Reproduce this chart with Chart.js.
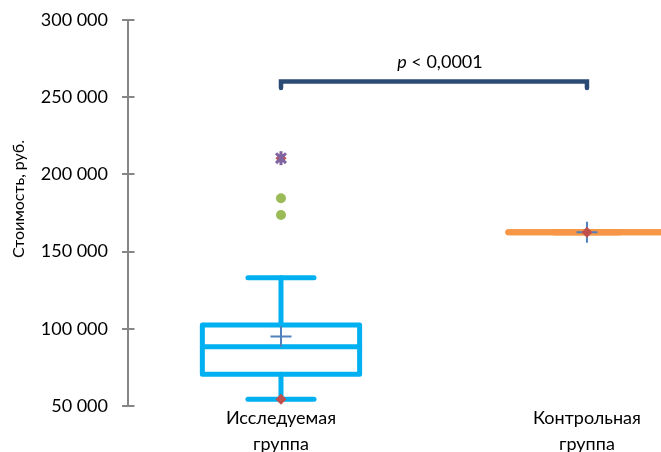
<!DOCTYPE html>
<html>
<head>
<meta charset="utf-8">
<script src="https://cdn.jsdelivr.net/npm/chart.js@4/dist/chart.umd.min.js"></script>
<style>
html,body{margin:0;padding:0;background:#fff;}
#wrap{width:661px;height:452px;position:relative;}
</style>
</head>
<body>
<div id="wrap"><canvas id="c" width="661" height="452"></canvas></div>
<script>
// ---- data ----
const categories = [["Исследуемая", "группа"], ["Контрольная", "группа"]];
const mins    = [54300, 162500];
const q1s     = [70500, 162500];
const medians = [88400, 162500];
const q3s     = [102500, 162500];
const maxs    = [133000, 162500];
const means   = [95000, 162500];
const outliers = [[184500, 173700], []];
const extremes = [[210500], []];
const redMarks = [[54300, 210500], [162500]];
const yTicks = [50000, 100000, 150000, 200000, 250000, 300000];
const bracketLow = 256000;
const bracketHigh = 260200;
const pLabel = ["p", " < 0,0001"];
const yTitle = "Стоимость, руб.";

// ---- styles ----
const groupColors = ["#00B0F0", "#F79646"];
const groupWidths = [5, 6];
const BOX_HALF = 0.257;
const CAP_HALF = 0.108;
const FONT = "Lato, 'Open Sans', sans-serif";

const datasets = [];
const lineDs = (pts, color, width, extra) => Object.assign({
  type: 'scatter', data: pts, showLine: true, pointRadius: 0, pointHoverRadius: 0,
  borderColor: color, borderWidth: width, borderCapStyle: 'round', borderJoinStyle: 'round',
  clip: false, spanGaps: false, fill: false
}, extra || {});

categories.forEach((c, i) => {
  const xc = i + 0.5, col = groupColors[i], w = groupWidths[i];
  datasets.push(lineDs([{x: xc, y: mins[i]}, {x: xc, y: q1s[i]}, {x: xc, y: null}, {x: xc, y: q3s[i]}, {x: xc, y: maxs[i]}], col, w));
  datasets.push(lineDs([{x: xc - CAP_HALF, y: maxs[i]}, {x: xc + CAP_HALF, y: maxs[i]}], col, w));
  datasets.push(lineDs([{x: xc - CAP_HALF, y: mins[i]}, {x: xc + CAP_HALF, y: mins[i]}], col, w));
  datasets.push(lineDs([
    {x: xc - BOX_HALF, y: q1s[i]}, {x: xc + BOX_HALF, y: q1s[i]},
    {x: xc + BOX_HALF, y: q3s[i]}, {x: xc - BOX_HALF, y: q3s[i]},
    {x: xc - BOX_HALF, y: q1s[i]}], col, w));
  datasets.push(lineDs([{x: xc - BOX_HALF, y: medians[i]}, {x: xc + BOX_HALF, y: medians[i]}], col, w));
});

datasets.push({type: 'scatter', data: means.map((v, i) => ({x: i + 0.5, y: v})),
  pointStyle: 'cross', pointRadius: 10.5, borderWidth: 2, borderColor: '#4F81BD', backgroundColor: '#4F81BD', clip: false});
datasets.push({type: 'scatter', data: outliers.flatMap((arr, i) => arr.map(v => ({x: i + 0.5, y: v}))),
  pointStyle: 'circle', pointRadius: 5, borderWidth: 0, backgroundColor: '#9BBB59', clip: false});
datasets.push({type: 'scatter', data: redMarks.flatMap((arr, i) => arr.map(v => ({x: i + 0.5, y: v}))),
  pointStyle: 'rectRot', pointRadius: 5.5, borderWidth: 0, backgroundColor: '#C0504D', clip: false});
const extPts = extremes.flatMap((arr, i) => arr.map(v => ({x: i + 0.5, y: v})));
datasets.push({type: 'scatter', data: extPts, pointStyle: 'crossRot', pointRadius: 7, borderWidth: 3, borderColor: '#8064A2', clip: false});
datasets.push({type: 'scatter', data: extPts, pointStyle: 'line', rotation: 90, pointRadius: 7, borderWidth: 3, borderColor: '#8064A2', clip: false});
datasets.push(lineDs([{x: 0.5, y: bracketLow}, {x: 0.5, y: bracketHigh}, {x: 1.5, y: bracketHigh}, {x: 1.5, y: bracketLow}], '#2B4A74', 4.5, {borderJoinStyle: 'miter'}));
// Chart.js paints the first dataset on top: reverse so later-pushed marks sit above
datasets.reverse();

const extras = {
  id: 'extras',
  afterDraw(chart) {
    const ctx = chart.ctx, ys = chart.scales.y, xs = chart.scales.x;
    ctx.save();
    ctx.strokeStyle = '#868686'; ctx.lineWidth = 2;
    yTicks.forEach(v => {
      const py = Math.round(ys.getPixelForValue(v));
      ctx.beginPath(); ctx.moveTo(chart.chartArea.left, py); ctx.lineTo(chart.chartArea.left + 6.5, py); ctx.stroke();
    });
    ctx.fillStyle = '#000';
    ctx.font = "16px " + FONT;
    ctx.textAlign = 'center'; ctx.textBaseline = 'middle';
    ctx.translate(19, 199); ctx.rotate(-Math.PI / 2);
    ctx.fillText(yTitle, 0, 0);
    ctx.setTransform(1, 0, 0, 1, 0, 0);
    const cx = xs.getPixelForValue(1.0) + 6;
    const by = ys.getPixelForValue(bracketHigh) - 13;
    ctx.font = "italic 18px " + FONT;
    const w1 = ctx.measureText(pLabel[0]).width;
    ctx.font = "18px " + FONT;
    const w2 = ctx.measureText(pLabel[1]).width;
    let sx = cx - (w1 + w2) / 2;
    ctx.textAlign = 'left'; ctx.textBaseline = 'alphabetic';
    ctx.font = "italic 18px " + FONT;
    ctx.fillText(pLabel[0], sx, by);
    ctx.font = "18px " + FONT;
    ctx.fillText(pLabel[1], sx + w1, by);
    ctx.restore();
  }
};

Chart.defaults.font.family = FONT;
new Chart(document.getElementById('c'), {
  type: 'scatter',
  data: {datasets},
  options: {
    responsive: false,
    animation: false,
    events: [],
    layout: {autoPadding: false, padding: {top: 20, right: 0, bottom: 0, left: 0}},
    plugins: {legend: {display: false}, tooltip: {enabled: false}},
    scales: {
      x: {
        type: 'linear', min: 0, max: 1.742,
        afterBuildTicks(s) { s.ticks = categories.map((c, i) => ({value: i + 0.5})); },
        afterFit(s) { s.height = 46; s.paddingLeft = 0; s.paddingRight = 0; },
        grid: {display: false, drawTicks: false},
        border: {display: false},
        ticks: {
          autoSkip: false, maxRotation: 0, padding: 0, color: '#000',
          font: {size: 18, lineHeight: 1.4},
          callback: (v) => categories[Math.floor(v)]
        }
      },
      y: {
        type: 'linear', min: 50000, max: 300000,
        afterBuildTicks(s) { s.ticks = yTicks.map(v => ({value: v})); },
        afterFit(s) { s.width = 128; s.paddingTop = 0; s.paddingBottom = 0; },
        grid: {display: true, drawOnChartArea: false, drawTicks: true, tickLength: 6, color: '#868686', lineWidth: 2},
        border: {display: true, color: '#868686', width: 2},
        ticks: {
          padding: 14, color: '#000', font: {size: 18},
          callback: (v) => String(v).replace(/\B(?=(\d{3})+(?!\d))/g, ' ')
        }
      }
    }
  },
  plugins: [extras]
});
</script>
</body>
</html>
